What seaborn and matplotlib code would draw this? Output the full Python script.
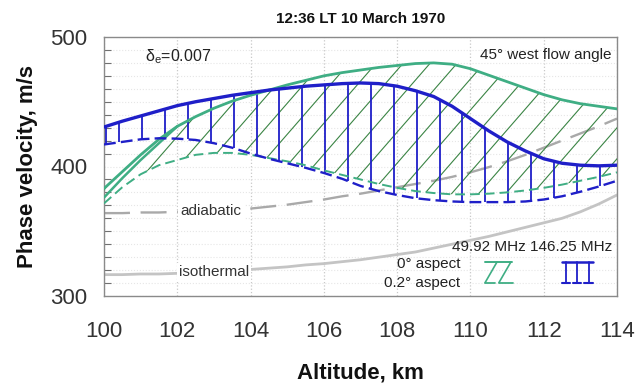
import numpy as np
import pandas as pd
import matplotlib
matplotlib.use("Agg")
import matplotlib.pyplot as plt
from matplotlib.ticker import MultipleLocator
import seaborn as sns

# ---------------- data ----------------
altitude = [100.0, 100.5, 101.0, 101.5, 102.0, 102.5, 103.0, 103.5, 104.0, 104.5,
            105.0, 105.5, 106.0, 106.5, 107.0, 107.5, 108.0, 108.5, 109.0, 109.5,
            110.0, 110.5, 111.0, 111.5, 112.0, 112.5, 113.0, 113.5, 114.0]

# 146.25 MHz, 0 deg aspect (blue solid)
blue_0 = [430.5, 435, 439, 443, 447, 450, 452.5, 455, 457, 459,
          460.5, 462, 463, 464, 464.5, 464, 462, 458.5, 454, 446.5,
          437, 427.5, 419, 412, 406, 402.5, 401, 400.5, 401]
# 146.25 MHz, 0.2 deg aspect (blue dashed)
blue_02 = [417, 419, 421, 421.8, 421.5, 420.5, 418, 414.5, 410, 406,
           402.5, 399, 395, 390.5, 385, 381, 378, 375.5, 374, 373,
           372.5, 372.5, 372.5, 373, 374.5, 377, 380.5, 384.5, 389]
# 49.92 MHz, 0 deg aspect (green solid)
green_0 = [383, 396, 409, 421, 431, 438.5, 445, 450.5, 455, 459,
           463, 466.5, 470, 472.5, 474.5, 476.5, 478, 479.5, 480, 479,
           475.5, 470.5, 465.5, 460.5, 455.5, 451.5, 448.5, 446.5, 444.5]
# second short green solid branch at the lowest altitudes
green_0b_alt = [100.0, 100.5, 101.0, 101.5, 102.0]
green_0b = [376, 391, 405, 418, 431]
# 49.92 MHz, 0.2 deg aspect (green dashed)
green_02 = [371.5, 384, 394, 401, 405, 409, 410.5, 410.5, 409, 406.5,
            404, 401, 397, 393.5, 390, 386.5, 383.5, 381, 379.5, 378.5,
            378.5, 379, 380, 381.5, 383.5, 386, 389, 392, 395.5]
# adiabatic and isothermal reference curves (gray)
adiabatic = [364, 364, 364.5, 364.5, 365, 365.5, 366, 366.5, 367.5, 369,
             370.5, 372.5, 374.5, 377, 379, 381.5, 384, 386.5, 389, 392,
             395.5, 399.5, 404, 409, 414.5, 420, 425.5, 431, 437]
isothermal = [316.5, 316.5, 317, 317, 317.5, 318, 319, 319.5, 320.5, 321.5,
              322.5, 324, 325, 326.5, 328, 330, 332, 334, 337, 340,
              343, 346, 349.5, 353, 356.5, 360, 365, 371, 378]

x_ticks = [100, 102, 104, 106, 108, 110, 112, 114]
y_ticks = [300, 400, 500]

title = "12:36 LT 10 March 1970"
xlabel = "Altitude, km"
ylabel = "Phase velocity, m/s"

# ---------------- style ----------------
sns.set_style("white")
plt.rcParams["font.family"] = ["Liberation Sans", "DejaVu Sans"]
plt.rcParams["mathtext.fontset"] = "custom"
plt.rcParams["mathtext.rm"] = "Liberation Sans"
plt.rcParams["mathtext.it"] = "Liberation Sans:italic"

BLUE = "#1f1fc8"
GREEN = "#3fae84"
HATCH_GREEN = "#3a8444"
GRAY_D = "#a9a9a9"
GRAY_S = "#c4c4c4"

fig = plt.figure(figsize=(6.37, 3.84), dpi=100)
ax = fig.add_axes([104 / 637, 1 - 296 / 384, 513 / 637, 259 / 384])

df = pd.DataFrame({"alt": altitude, "blue_0": blue_0, "blue_02": blue_02,
                   "green_0": green_0, "green_02": green_02,
                   "adiabatic": adiabatic, "isothermal": isothermal})
alt = np.asarray(altitude)

# grid
ax.set_xlim(100, 114)
ax.set_ylim(300, 500)
ax.xaxis.set_major_locator(MultipleLocator(2))
ax.yaxis.set_major_locator(MultipleLocator(100))
ax.yaxis.set_minor_locator(MultipleLocator(10))
ax.grid(True, which="major", axis="x", ls=":", color="#c8c8c8", lw=0.9, zorder=0)
ax.grid(True, which="both", axis="y", ls=":", color="#e6e6e6", lw=0.8, zorder=0)

# reference curves
sns.lineplot(data=df, x="alt", y="isothermal", ax=ax, color=GRAY_S, lw=2.0, zorder=2)
sns.lineplot(data=df, x="alt", y="adiabatic", ax=ax, color=GRAY_D, lw=1.7,
             linestyle=(0, (11, 4.5)), zorder=2)

# green diagonal hatch between green curves (clipped to the band)
band = ax.fill_between(alt, df["green_02"], df["green_0"], facecolor="none",
                       edgecolor="none", lw=0)
clip_path = band.get_paths()[0]
slope = 32.5      # m/s per km (visual slant of the hatch)
step = 0.737      # km between hatch lines
for c in np.arange(96.0, 114.5, step):
    ln, = ax.plot([c, c + 200 / slope], [300, 500], color=HATCH_GREEN, lw=0.8, zorder=3)
    ln.set_clip_path(clip_path, ax.transData)

# blue vertical hatch between blue curves
v_pos = np.concatenate([[100.06], np.arange(100.42, 113.9, 0.624)])
ax.vlines(v_pos, np.interp(v_pos, alt, df["blue_02"]), np.interp(v_pos, alt, df["blue_0"]),
          color=BLUE, lw=1.3, zorder=4)

# main curves
sns.lineplot(data=df, x="alt", y="green_02", ax=ax, color=GREEN, lw=1.4,
             linestyle=(0, (5, 2.6)), zorder=5)
sns.lineplot(x=green_0b_alt, y=green_0b, ax=ax, color=GREEN, lw=1.8, zorder=5)
sns.lineplot(data=df, x="alt", y="green_0", ax=ax, color=GREEN, lw=2.0, zorder=5)
sns.lineplot(data=df, x="alt", y="blue_02", ax=ax, color=BLUE, lw=1.7,
             linestyle=(0, (5, 2.2)), zorder=6)
sns.lineplot(data=df, x="alt", y="blue_0", ax=ax, color=BLUE, lw=2.4, zorder=6)

# labels on reference curves
ax.text(102.92, 365.8, "adiabatic", fontsize=11, color="#333333", ha="center", va="center",
        bbox=dict(facecolor="white", edgecolor="none", pad=1.5), zorder=7)
ax.text(103.0, 318.3, "isothermal", fontsize=11, color="#333333", ha="center", va="center",
        bbox=dict(facecolor="white", edgecolor="none", pad=1.5), zorder=7)

# annotations
ax.text(0.080, 0.923, r"$\mathregular{\delta_e}$=0.007", transform=ax.transAxes,
        fontsize=11.5, color="#222222", ha="left", va="center")
ax.text(0.99, 0.932, "45° west flow angle", transform=ax.transAxes,
        fontsize=11, color="#222222", ha="right", va="center")

# legend block (drawn in axes fraction)
ax.text(0.834, 0.19, "49.92 MHz 146.25 MHz", transform=ax.transAxes, fontsize=11,
        color="#222222", ha="center", va="center", zorder=8)
ax.text(0.694, 0.124, "0° aspect", transform=ax.transAxes, fontsize=11,
        color="#222222", ha="right", va="center", zorder=8)
ax.text(0.694, 0.050, "0.2° aspect", transform=ax.transAxes, fontsize=11,
        color="#222222", ha="right", va="center", zorder=8)
tA = ax.transAxes
yt, yb = 0.131, 0.052
ax.plot([0.743, 0.795], [yt, yt], color=GREEN, lw=1.4, transform=tA, zorder=8)
ax.plot([0.743, 0.766], [yb, yt], color=GREEN, lw=1.2, transform=tA, zorder=8)
ax.plot([0.770, 0.793], [yb, yt], color=GREEN, lw=1.2, transform=tA, zorder=8)
ax.plot([0.743, 0.763], [yb, yb], color=GREEN, lw=1.3, transform=tA, zorder=8)
ax.plot([0.770, 0.797], [yb, yb], color=GREEN, lw=1.3, transform=tA, zorder=8)
ax.plot([0.893, 0.953], [yt, yt], color=BLUE, lw=1.8, transform=tA, zorder=8)
for xv, (x0, x1) in zip([0.901, 0.922, 0.945], [(0.893, 0.908), (0.914, 0.930), (0.936, 0.953)]):
    ax.plot([xv, xv], [yb, yt], color=BLUE, lw=1.3, transform=tA, zorder=8)
    ax.plot([x0, x1], [yb, yb], color=BLUE, lw=1.5, transform=tA, zorder=8)

# axes cosmetics
ax.set_xticks(x_ticks)
ax.set_yticks(y_ticks)
ax.set_xticklabels([str(t) for t in x_ticks])
ax.set_yticklabels([str(t) for t in y_ticks])
for s in ax.spines.values():
    s.set_visible(True)
    s.set_color("#8a8a8a")
    s.set_linewidth(1.0)
ax.tick_params(axis="x", which="major", direction="inout", length=8, width=1,
               color="#707070", labelsize=16, labelcolor="#333333", pad=14)
ax.tick_params(axis="y", which="major", direction="inout", length=10, width=1,
               color="#707070", labelsize=16, labelcolor="#333333", pad=7)
ax.tick_params(axis="y", which="minor", direction="in", length=5, width=0.8,
               color="#707070", left=True)
ax.tick_params(axis="x", which="minor", bottom=False)

ax.set_xlabel(xlabel, fontsize=16, fontweight="bold", color="#111111", labelpad=15)
ax.set_ylabel(ylabel, fontsize=16, fontweight="bold", color="#111111", labelpad=9)
ax.set_title(title, fontsize=11, fontweight="bold", color="#111111", pad=10)

fig.savefig("out.png", dpi=100)
